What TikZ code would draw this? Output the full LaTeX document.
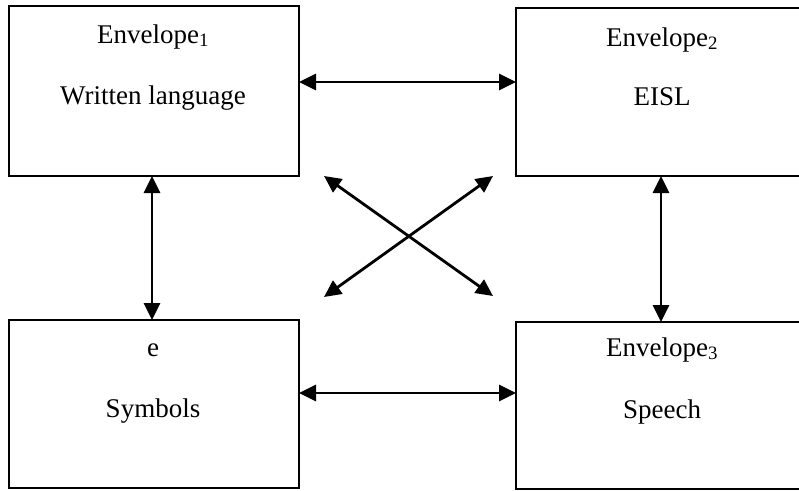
\documentclass[tikz,border=0pt]{standalone}
\usepackage{fontspec}
\setmainfont{Liberation Serif}
\usetikzlibrary{arrows.meta,calc}
\begin{document}
\begin{tikzpicture}[x=1pt,y=-1pt,
  envbox/.style={draw,line width=1.4pt,rectangle,inner sep=0pt,outer sep=0pt},
  lbl/.style={font=\fontsize{27}{31}\selectfont,inner sep=0pt,anchor=base},
  dblarrow/.style={line width=2.8pt,{Triangle[length=17pt,width=16pt]}-{Triangle[length=17pt,width=16pt]}}]
\path[use as bounding box] (0,0) rectangle (799,490);
\clip (0,0) rectangle (799,490);
% boxes
\node[envbox,minimum width=290pt,minimum height=170pt] (b1) at (154,91) {};
\node[envbox,minimum width=292pt,minimum height=168pt] (b2) at (662,92) {};
\node[envbox,minimum width=290pt,minimum height=168pt] (b4) at (154,404) {};
\node[envbox,minimum width=292pt,minimum height=167pt] (b3) at (662,405.5) {};
% texts
\node[lbl] (t1a) at (153,43) {Envelope\textsubscript{1}};
\node[lbl] (t1b) at (153,104) {Written language};
\node[lbl] (t2a) at (662,46) {Envelope\textsubscript{2}};
\node[lbl] (t2b) at (662,105) {EISL};
\node[lbl] (t4a) at (153,356) {e};
\node[lbl] (t4b) at (153,417) {Symbols};
\node[lbl] (t3a) at (662,356) {Envelope\textsubscript{3}};
\node[lbl] (t3b) at (662,418) {Speech};
% straight arrows
\draw[dblarrow] (b1.east |- 0,82) -- (b2.west |- 0,82);
\draw[dblarrow] (b4.east |- 0,393) -- (b3.west |- 0,393);
\draw[dblarrow] (b1.south -| 152,0) -- (b4.north -| 152,0);
\draw[dblarrow] (b2.south -| 661,0) -- (b3.north -| 661,0);
% diagonal arrows
\coordinate (d1) at (324,176);
\coordinate (d2) at (493,296);
\coordinate (d3) at (493,176);
\coordinate (d4) at (324,297);
\draw[dblarrow] (d1) -- (d2);
\draw[dblarrow] (d3) -- (d4);
\end{tikzpicture}
\end{document}
